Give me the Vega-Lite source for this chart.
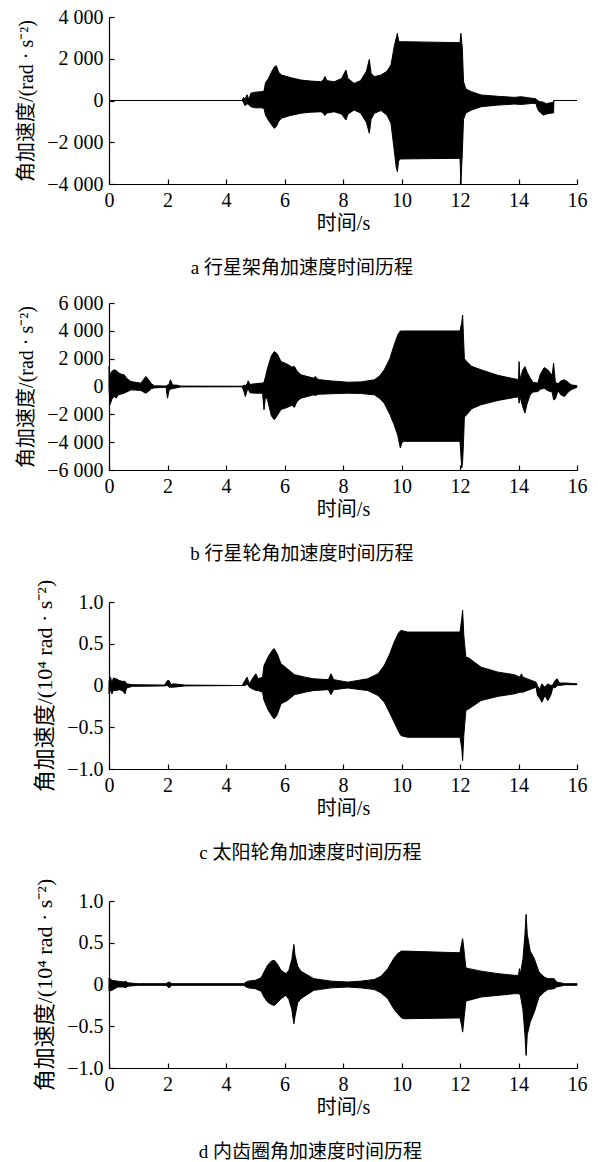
{
  "$schema": "https://vega.github.io/schema/vega-lite/v6.json",
  "background": "white",
  "padding": {"left": 16, "top": 7, "right": 5, "bottom": 0},
  "config": {
    "view": {"stroke": null},
    "axis": {
      "grid": false,
      "domainColor": "black",
      "domainWidth": 1.2,
      "tickColor": "black",
      "tickWidth": 1.2,
      "tickSize": -5,
      "labelPadding": 11,
      "labelColor": "black",
      "labelFont": "Liberation Serif",
      "labelFontSize": 20,
      "labelFlush": false,
      "labelOverlap": false,
      "titleColor": "black",
      "titleFont": "Liberation Serif, Noto Sans CJK SC",
      "titleFontSize": 20,
      "titleFontWeight": "normal"
    },
    "axisY": {"titlePadding": 10},
    "axisX": {"titlePadding": 3},
    "title": {"font": "Liberation Serif, Noto Sans CJK SC", "fontSize": 19, "fontWeight": "normal", "color": "black"}
  },
  "datasets": {
    "a": [
      {"t": 0, "hi": 0, "lo": 0}, {"t": 4.55, "hi": 0, "lo": 0}, {"t": 4.6, "hi": 150, "lo": -100}, {"t": 4.65, "hi": 50, "lo": -250},
      {"t": 4.72, "hi": 280, "lo": -150}, {"t": 4.78, "hi": 50, "lo": -200}, {"t": 4.85, "hi": 350, "lo": -300}, {"t": 5.0, "hi": 400, "lo": -350},
      {"t": 5.2, "hi": 420, "lo": -350}, {"t": 5.3, "hi": 450, "lo": -380}, {"t": 5.35, "hi": 850, "lo": -700}, {"t": 5.45, "hi": 1050, "lo": -950},
      {"t": 5.55, "hi": 1350, "lo": -1150}, {"t": 5.65, "hi": 1600, "lo": -1330}, {"t": 5.72, "hi": 1670, "lo": -1250}, {"t": 5.8, "hi": 1350, "lo": -1000},
      {"t": 5.9, "hi": 1220, "lo": -850}, {"t": 6.2, "hi": 1100, "lo": -720}, {"t": 6.56, "hi": 980, "lo": -610}, {"t": 6.9, "hi": 930, "lo": -560},
      {"t": 7.25, "hi": 900, "lo": -540}, {"t": 7.33, "hi": 1000, "lo": -620}, {"t": 7.38, "hi": 1150, "lo": -720}, {"t": 7.45, "hi": 950, "lo": -600},
      {"t": 7.7, "hi": 900, "lo": -540}, {"t": 7.95, "hi": 1050, "lo": -650}, {"t": 8.1, "hi": 1460, "lo": -935}, {"t": 8.17, "hi": 1050, "lo": -650},
      {"t": 8.38, "hi": 820, "lo": -455}, {"t": 8.6, "hi": 950, "lo": -600}, {"t": 8.8, "hi": 1400, "lo": -1050}, {"t": 8.9, "hi": 1970, "lo": -1570},
      {"t": 8.96, "hi": 1300, "lo": -900}, {"t": 9.07, "hi": 1140, "lo": -615}, {"t": 9.3, "hi": 1220, "lo": -480}, {"t": 9.5, "hi": 1400, "lo": -700},
      {"t": 9.64, "hi": 1700, "lo": -1090}, {"t": 9.75, "hi": 2580, "lo": -2370}, {"t": 9.82, "hi": 3000, "lo": -3200}, {"t": 9.86, "hi": 3220, "lo": -3410},
      {"t": 9.9, "hi": 2850, "lo": -2900}, {"t": 9.96, "hi": 2820, "lo": -2800}, {"t": 12.0, "hi": 2770, "lo": -2770}, {"t": 12.03, "hi": 3220, "lo": -4000},
      {"t": 12.08, "hi": 2500, "lo": -2500}, {"t": 12.12, "hi": 900, "lo": -900}, {"t": 12.2, "hi": 550, "lo": -600}, {"t": 12.4, "hi": 420, "lo": -450},
      {"t": 12.72, "hi": 265, "lo": -300}, {"t": 13.3, "hi": 200, "lo": -220}, {"t": 13.86, "hi": 150, "lo": -170}, {"t": 14.09, "hi": 180, "lo": -190},
      {"t": 14.5, "hi": 100, "lo": -135}, {"t": 14.6, "hi": 80, "lo": -150}, {"t": 14.65, "hi": 0, "lo": -400}, {"t": 14.72, "hi": -50, "lo": -550},
      {"t": 14.85, "hi": -80, "lo": -700}, {"t": 14.95, "hi": -150, "lo": -650}, {"t": 15.05, "hi": -120, "lo": -620}, {"t": 15.15, "hi": -100, "lo": -600},
      {"t": 15.2, "hi": -50, "lo": -600}, {"t": 15.21, "hi": 0, "lo": 0}, {"t": 16, "hi": 0, "lo": 0}
    ],
    "b": [
      {"t": 0.0, "hi": 1430, "lo": -200}, {"t": 0.04, "hi": 800, "lo": -1290}, {"t": 0.1, "hi": 1100, "lo": -900}, {"t": 0.18, "hi": 1200, "lo": -700},
      {"t": 0.24, "hi": 1150, "lo": -840}, {"t": 0.32, "hi": 1000, "lo": -600}, {"t": 0.4, "hi": 900, "lo": -550}, {"t": 0.52, "hi": 840, "lo": -480},
      {"t": 0.6, "hi": 600, "lo": -400}, {"t": 0.75, "hi": 360, "lo": -240}, {"t": 0.9, "hi": 300, "lo": -260}, {"t": 1.09, "hi": 240, "lo": -290},
      {"t": 1.18, "hi": 500, "lo": -400}, {"t": 1.26, "hi": 720, "lo": -480}, {"t": 1.35, "hi": 500, "lo": -350}, {"t": 1.45, "hi": 200, "lo": -150},
      {"t": 1.55, "hi": 50, "lo": -100}, {"t": 1.95, "hi": 30, "lo": -50}, {"t": 2.0, "hi": 100, "lo": -840}, {"t": 2.05, "hi": 150, "lo": -300},
      {"t": 2.1, "hi": 480, "lo": -200}, {"t": 2.18, "hi": 100, "lo": -150}, {"t": 2.3, "hi": 100, "lo": -100}, {"t": 2.45, "hi": 30, "lo": -30},
      {"t": 4.55, "hi": 20, "lo": -20}, {"t": 4.62, "hi": 100, "lo": -400}, {"t": 4.66, "hi": 50, "lo": -720}, {"t": 4.72, "hi": 200, "lo": -300},
      {"t": 4.76, "hi": 410, "lo": -200}, {"t": 4.82, "hi": 150, "lo": -450}, {"t": 5.0, "hi": 200, "lo": -480}, {"t": 5.25, "hi": 250, "lo": -480},
      {"t": 5.3, "hi": 300, "lo": -1670}, {"t": 5.35, "hi": 700, "lo": -700}, {"t": 5.42, "hi": 1310, "lo": -960}, {"t": 5.55, "hi": 2200, "lo": -2100},
      {"t": 5.65, "hi": 2510, "lo": -2390}, {"t": 5.75, "hi": 2350, "lo": -2100}, {"t": 5.88, "hi": 1800, "lo": -1650}, {"t": 6.1, "hi": 1600, "lo": -1500},
      {"t": 6.25, "hi": 1400, "lo": -1350}, {"t": 6.34, "hi": 1430, "lo": -1500}, {"t": 6.42, "hi": 1150, "lo": -1100}, {"t": 6.56, "hi": 840, "lo": -840},
      {"t": 7.0, "hi": 600, "lo": -600}, {"t": 7.05, "hi": 720, "lo": -650}, {"t": 7.15, "hi": 500, "lo": -560}, {"t": 7.6, "hi": 400, "lo": -520},
      {"t": 8.16, "hi": 310, "lo": -480}, {"t": 8.6, "hi": 330, "lo": -500}, {"t": 9.07, "hi": 480, "lo": -600}, {"t": 9.25, "hi": 750, "lo": -850},
      {"t": 9.41, "hi": 1200, "lo": -1200}, {"t": 9.6, "hi": 2000, "lo": -2000}, {"t": 9.75, "hi": 2990, "lo": -2750}, {"t": 9.87, "hi": 3700, "lo": -3500},
      {"t": 9.96, "hi": 3990, "lo": -4420}, {"t": 10.02, "hi": 3990, "lo": -4000}, {"t": 10.1, "hi": 3990, "lo": -3940}, {"t": 12.0, "hi": 3990, "lo": -3940},
      {"t": 12.06, "hi": 4600, "lo": -5860}, {"t": 12.09, "hi": 5140, "lo": -5400}, {"t": 12.12, "hi": 3500, "lo": -4000}, {"t": 12.15, "hi": 2000, "lo": -2200},
      {"t": 12.23, "hi": 1790, "lo": -2030}, {"t": 12.4, "hi": 1450, "lo": -1600}, {"t": 12.72, "hi": 1200, "lo": -1310}, {"t": 13.3, "hi": 800, "lo": -1000},
      {"t": 13.86, "hi": 550, "lo": -790}, {"t": 14.0, "hi": 500, "lo": -750}, {"t": 14.02, "hi": 1790, "lo": -1200}, {"t": 14.05, "hi": 500, "lo": -700},
      {"t": 14.15, "hi": 1200, "lo": -1500}, {"t": 14.22, "hi": 1430, "lo": -1910}, {"t": 14.3, "hi": 1000, "lo": -1200}, {"t": 14.4, "hi": 600, "lo": -600},
      {"t": 14.5, "hi": 300, "lo": -400}, {"t": 14.66, "hi": 240, "lo": -360}, {"t": 14.75, "hi": 900, "lo": -200}, {"t": 14.88, "hi": 1360, "lo": -120},
      {"t": 15.0, "hi": 1200, "lo": -300}, {"t": 15.15, "hi": 800, "lo": -400}, {"t": 15.2, "hi": 1670, "lo": -960}, {"t": 15.26, "hi": 300, "lo": -900},
      {"t": 15.35, "hi": 200, "lo": -300}, {"t": 15.45, "hi": 400, "lo": -600}, {"t": 15.57, "hi": 480, "lo": -720}, {"t": 15.7, "hi": 300, "lo": -400},
      {"t": 15.8, "hi": 120, "lo": -240}, {"t": 16.0, "hi": 50, "lo": -50}
    ],
    "c": [
      {"t": 0, "hi": 0.05, "lo": -0.1}, {"t": 0.05, "hi": 0.1, "lo": -0.05}, {"t": 0.1, "hi": 0.03, "lo": -0.1}, {"t": 0.15, "hi": 0.09, "lo": -0.06},
      {"t": 0.25, "hi": 0.08, "lo": -0.06}, {"t": 0.35, "hi": 0.06, "lo": -0.05}, {"t": 0.45, "hi": 0.05, "lo": -0.06}, {"t": 0.55, "hi": 0.05, "lo": -0.1},
      {"t": 0.6, "hi": 0.02, "lo": -0.03}, {"t": 0.8, "hi": 0.01, "lo": -0.01}, {"t": 1.9, "hi": 0.005, "lo": -0.005}, {"t": 2.0, "hi": 0.06, "lo": 0},
      {"t": 2.05, "hi": 0.06, "lo": -0.02}, {"t": 2.12, "hi": 0.01, "lo": -0.02}, {"t": 2.2, "hi": 0.02, "lo": -0.02}, {"t": 2.6, "hi": 0.005, "lo": -0.005},
      {"t": 4.55, "hi": 0, "lo": 0}, {"t": 4.65, "hi": 0.06, "lo": 0}, {"t": 4.72, "hi": 0.1, "lo": 0.02}, {"t": 4.8, "hi": 0.02, "lo": -0.02},
      {"t": 4.9, "hi": 0.08, "lo": -0.04}, {"t": 5.02, "hi": 0.14, "lo": -0.06}, {"t": 5.1, "hi": 0.08, "lo": -0.06}, {"t": 5.25, "hi": 0.1, "lo": -0.08},
      {"t": 5.3, "hi": 0.24, "lo": -0.18}, {"t": 5.45, "hi": 0.35, "lo": -0.3}, {"t": 5.6, "hi": 0.43, "lo": -0.38}, {"t": 5.65, "hi": 0.44, "lo": -0.4},
      {"t": 5.75, "hi": 0.38, "lo": -0.35}, {"t": 5.88, "hi": 0.26, "lo": -0.22}, {"t": 6.1, "hi": 0.2, "lo": -0.18}, {"t": 6.34, "hi": 0.13, "lo": -0.11},
      {"t": 6.7, "hi": 0.1, "lo": -0.08}, {"t": 7.0, "hi": 0.08, "lo": -0.06}, {"t": 7.5, "hi": 0.07, "lo": -0.05}, {"t": 7.59, "hi": 0.14, "lo": -0.11},
      {"t": 7.68, "hi": 0.07, "lo": -0.05}, {"t": 8.16, "hi": 0.04, "lo": -0.03}, {"t": 8.84, "hi": 0.08, "lo": -0.06}, {"t": 9.2, "hi": 0.14, "lo": -0.12},
      {"t": 9.41, "hi": 0.24, "lo": -0.2}, {"t": 9.6, "hi": 0.38, "lo": -0.33}, {"t": 9.75, "hi": 0.52, "lo": -0.44}, {"t": 9.9, "hi": 0.63, "lo": -0.55},
      {"t": 9.98, "hi": 0.66, "lo": -0.6}, {"t": 10.21, "hi": 0.64, "lo": -0.62}, {"t": 12.0, "hi": 0.64, "lo": -0.62}, {"t": 12.06, "hi": 0.8, "lo": -0.75},
      {"t": 12.09, "hi": 0.9, "lo": -0.9}, {"t": 12.13, "hi": 0.6, "lo": -0.6}, {"t": 12.2, "hi": 0.34, "lo": -0.3}, {"t": 12.3, "hi": 0.33, "lo": -0.28},
      {"t": 12.72, "hi": 0.22, "lo": -0.18}, {"t": 13.3, "hi": 0.16, "lo": -0.13}, {"t": 13.86, "hi": 0.13, "lo": -0.1}, {"t": 14.05, "hi": 0.1, "lo": -0.08},
      {"t": 14.1, "hi": 0.14, "lo": -0.08}, {"t": 14.15, "hi": 0.1, "lo": -0.08}, {"t": 14.6, "hi": 0.04, "lo": -0.02}, {"t": 14.65, "hi": 0.0, "lo": -0.12},
      {"t": 14.72, "hi": -0.05, "lo": -0.15}, {"t": 14.8, "hi": 0.02, "lo": -0.2}, {"t": 14.9, "hi": -0.02, "lo": -0.12}, {"t": 15.0, "hi": 0.02, "lo": -0.18},
      {"t": 15.1, "hi": 0.0, "lo": -0.12}, {"t": 15.18, "hi": 0.01, "lo": -0.02}, {"t": 15.25, "hi": 0.06, "lo": -0.03}, {"t": 15.32, "hi": 0.08, "lo": 0.0},
      {"t": 15.4, "hi": 0.03, "lo": 0.0}, {"t": 15.6, "hi": 0.03, "lo": 0.01}, {"t": 16.0, "hi": 0.02, "lo": 0.01}
    ],
    "d": [
      {"t": 0, "hi": 0.08, "lo": -0.08}, {"t": 0.1, "hi": 0.05, "lo": -0.07}, {"t": 0.3, "hi": 0.04, "lo": -0.03}, {"t": 0.5, "hi": 0.03, "lo": -0.03},
      {"t": 0.55, "hi": 0.04, "lo": -0.04}, {"t": 0.65, "hi": 0.02, "lo": -0.02}, {"t": 1.0, "hi": 0.01, "lo": -0.01}, {"t": 1.95, "hi": 0.01, "lo": -0.01},
      {"t": 2.05, "hi": 0.03, "lo": -0.04}, {"t": 2.15, "hi": 0.01, "lo": -0.01}, {"t": 4.6, "hi": 0.01, "lo": -0.01}, {"t": 4.75, "hi": 0.04, "lo": -0.04},
      {"t": 5.0, "hi": 0.05, "lo": -0.05}, {"t": 5.2, "hi": 0.08, "lo": -0.08}, {"t": 5.3, "hi": 0.15, "lo": -0.15}, {"t": 5.42, "hi": 0.23, "lo": -0.21},
      {"t": 5.55, "hi": 0.28, "lo": -0.24}, {"t": 5.65, "hi": 0.29, "lo": -0.25}, {"t": 5.75, "hi": 0.25, "lo": -0.22}, {"t": 5.88, "hi": 0.17, "lo": -0.17},
      {"t": 6.05, "hi": 0.13, "lo": -0.13}, {"t": 6.15, "hi": 0.17, "lo": -0.18}, {"t": 6.25, "hi": 0.3, "lo": -0.3}, {"t": 6.32, "hi": 0.48, "lo": -0.47},
      {"t": 6.36, "hi": 0.35, "lo": -0.38}, {"t": 6.45, "hi": 0.22, "lo": -0.22}, {"t": 6.56, "hi": 0.16, "lo": -0.17}, {"t": 7.0, "hi": 0.07, "lo": -0.07},
      {"t": 7.6, "hi": 0.04, "lo": -0.04}, {"t": 8.16, "hi": 0.03, "lo": -0.03}, {"t": 8.6, "hi": 0.04, "lo": -0.04}, {"t": 9.07, "hi": 0.06, "lo": -0.06},
      {"t": 9.3, "hi": 0.1, "lo": -0.1}, {"t": 9.53, "hi": 0.19, "lo": -0.17}, {"t": 9.75, "hi": 0.32, "lo": -0.3}, {"t": 9.87, "hi": 0.37, "lo": -0.35},
      {"t": 10.0, "hi": 0.4, "lo": -0.4}, {"t": 10.1, "hi": 0.4, "lo": -0.41}, {"t": 12.0, "hi": 0.38, "lo": -0.4}, {"t": 12.06, "hi": 0.5, "lo": -0.5},
      {"t": 12.09, "hi": 0.55, "lo": -0.57}, {"t": 12.14, "hi": 0.4, "lo": -0.4}, {"t": 12.2, "hi": 0.2, "lo": -0.2}, {"t": 12.3, "hi": 0.19, "lo": -0.19},
      {"t": 12.72, "hi": 0.16, "lo": -0.15}, {"t": 13.3, "hi": 0.13, "lo": -0.13}, {"t": 13.86, "hi": 0.11, "lo": -0.11}, {"t": 14.0, "hi": 0.11, "lo": -0.11},
      {"t": 14.03, "hi": 0.19, "lo": -0.12}, {"t": 14.06, "hi": 0.12, "lo": -0.12}, {"t": 14.15, "hi": 0.3, "lo": -0.3}, {"t": 14.22, "hi": 0.6, "lo": -0.6},
      {"t": 14.26, "hi": 0.84, "lo": -0.85}, {"t": 14.3, "hi": 0.6, "lo": -0.6}, {"t": 14.4, "hi": 0.4, "lo": -0.45}, {"t": 14.54, "hi": 0.31, "lo": -0.33},
      {"t": 14.7, "hi": 0.15, "lo": -0.15}, {"t": 14.88, "hi": 0.09, "lo": -0.09}, {"t": 15.0, "hi": 0.07, "lo": -0.06}, {"t": 15.22, "hi": 0.07, "lo": -0.05},
      {"t": 15.3, "hi": 0.03, "lo": -0.03}, {"t": 15.57, "hi": 0.01, "lo": -0.01}, {"t": 16.0, "hi": 0.01, "lo": -0.01}
    ]
  },
  "spacing": 15,
  "vconcat": [
    {
      "data": {"name": "a"},
      "width": 468, "height": 167,
      "title": {"text": "a 行星架角加速度时间历程", "orient": "bottom", "frame": "bounds", "anchor": "middle", "offset": 26},
      "mark": {"type": "area", "color": "black", "stroke": "black", "strokeWidth": 1},
      "encoding": {
        "x": {"field": "t", "type": "quantitative", "scale": {"domain": [0, 16], "nice": false}, "axis": {"values": [0, 2, 4, 6, 8, 10, 12, 14, 16], "title": "时间/s"}},
        "y": {"field": "hi", "type": "quantitative", "scale": {"domain": [-4000, 4000], "nice": false}, "axis": {"values": [-4000, -2000, 0, 2000, 4000], "labelExpr": "replace(format(datum.value, ','), ',', ' ')", "title": "角加速度/(rad · s⁻²)"}},
        "y2": {"field": "lo"}
      }
    },
    {
      "data": {"name": "b"},
      "width": 468, "height": 167,
      "title": {"text": "b 行星轮角加速度时间历程", "orient": "bottom", "frame": "bounds", "anchor": "middle", "offset": 26},
      "mark": {"type": "area", "color": "black", "stroke": "black", "strokeWidth": 1},
      "encoding": {
        "x": {"field": "t", "type": "quantitative", "scale": {"domain": [0, 16], "nice": false}, "axis": {"values": [0, 2, 4, 6, 8, 10, 12, 14, 16], "title": "时间/s"}},
        "y": {"field": "hi", "type": "quantitative", "scale": {"domain": [-6000, 6000], "nice": false}, "axis": {"values": [-6000, -4000, -2000, 0, 2000, 4000, 6000], "labelExpr": "replace(format(datum.value, ','), ',', ' ')", "title": "角加速度/(rad · s⁻²)"}},
        "y2": {"field": "lo"}
      }
    },
    {
      "data": {"name": "c"},
      "width": 468, "height": 167,
      "title": {"text": "c 太阳轮角加速度时间历程", "orient": "bottom", "frame": "bounds", "anchor": "middle", "offset": 26},
      "mark": {"type": "area", "color": "black", "stroke": "black", "strokeWidth": 1},
      "encoding": {
        "x": {"field": "t", "type": "quantitative", "scale": {"domain": [0, 16], "nice": false}, "axis": {"values": [0, 2, 4, 6, 8, 10, 12, 14, 16], "title": "时间/s"}},
        "y": {"field": "hi", "type": "quantitative", "scale": {"domain": [-1, 1], "nice": false}, "axis": {"values": [-1, -0.5, 0, 0.5, 1], "labelExpr": "datum.value == 0 ? '0' : format(datum.value, '.1f')", "title": "角加速度/(10⁴ rad · s⁻²)", "titleFontSize": 22}},
        "y2": {"field": "lo"}
      }
    },
    {
      "data": {"name": "d"},
      "width": 468, "height": 167,
      "title": {"text": "d 内齿圈角加速度时间历程", "orient": "bottom", "frame": "bounds", "anchor": "middle", "offset": 26},
      "mark": {"type": "area", "color": "black", "stroke": "black", "strokeWidth": 1},
      "encoding": {
        "x": {"field": "t", "type": "quantitative", "scale": {"domain": [0, 16], "nice": false}, "axis": {"values": [0, 2, 4, 6, 8, 10, 12, 14, 16], "title": "时间/s"}},
        "y": {"field": "hi", "type": "quantitative", "scale": {"domain": [-1, 1], "nice": false}, "axis": {"values": [-1, -0.5, 0, 0.5, 1], "labelExpr": "datum.value == 0 ? '0' : format(datum.value, '.1f')", "title": "角加速度/(10⁴ rad · s⁻²)", "titleFontSize": 22}},
        "y2": {"field": "lo"}
      }
    }
  ]
}
